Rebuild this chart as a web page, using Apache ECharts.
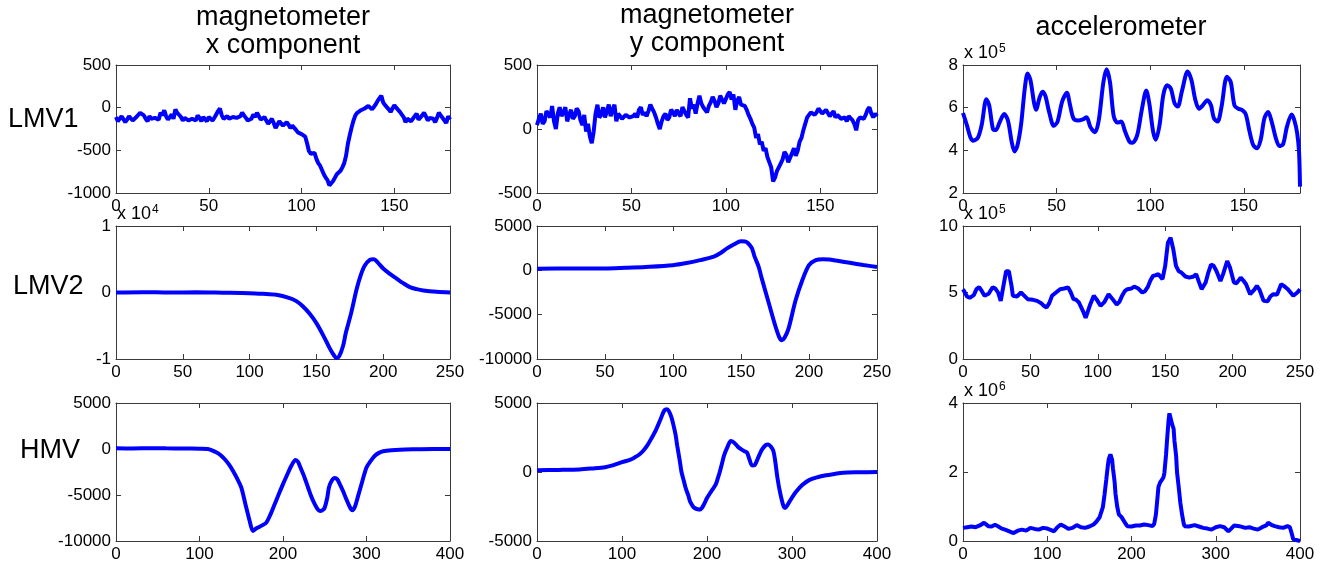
<!DOCTYPE html>
<html>
<head>
<meta charset="utf-8">
<script src="https://cdn.jsdelivr.net/npm/echarts@6.0.0/dist/echarts.min.js"></script>
<style>
  html, body { margin: 0; padding: 0; background: #fff; }
  #chart { width: 1329px; height: 566px; }
</style>
</head>
<body>
<div id="chart"></div>
<script>
// column / row captions
const colTitles = ['magnetometer\nx component', 'magnetometer\ny component', 'accelerometer'];
const rowLabels = ['LMV1', 'LMV2', 'HMV'];

// x axis per row
const xMaxs = [180, 250, 400];
const xSteps = [50, 50, 100];

// y axis per panel (row by row); values of panels with an exponent are stored scaled
const yMins = [-1000, -500, 2, -1, -10000, 0, -10000, -5000, 0];
const yMaxs = [500, 500, 8, 1, 5000, 10, 5000, 5000, 4];
const ySteps = [500, 500, 2, 1, 5000, 5, 5000, 5000, 2];
const yExponents = [0, 0, 5, 4, 0, 5, 0, 0, 6];

// LMV1 magnetometer, one value per sample 0..180
const lmv1MagXValues = [-110,-160,-150,-100,-90,-170,-140,-100,-120,-150,-160,-110,-100,-60,-40,-90,-130,-160,-100,-130,
  -150,-120,-110,-140,-60,-90,-30,-100,-140,-110,-80,-130,-20,-60,-50,-110,-150,-120,-110,-150,
  -170,-130,-120,-150,-90,-120,-160,-110,-130,-160,-110,-130,-150,-120,-80,-40,-10,-90,-130,-150,
  -100,-130,-150,-110,-90,-120,-140,-100,-60,-90,-120,-150,-170,-130,-80,-110,-60,-100,-140,-120,
  -110,-150,-190,-160,-130,-180,-240,-200,-160,-180,-210,-230,-170,-200,-240,-210,-220,-260,-290,-280,
  -310,-300,-340,-420,-510,-540,-560,-530,-600,-650,-680,-700,-780,-820,-850,-910,-900,-860,-820,-780,
  -770,-740,-700,-650,-560,-420,-320,-230,-150,-90,-60,-40,-30,-10,-10,-30,20,0,-20,10,
  40,80,110,140,60,30,10,-20,-50,-10,30,0,-20,-50,-60,-110,-170,-130,-110,-160,
  -130,-100,-70,-140,-120,-90,-60,-100,-150,-120,-100,-130,-170,-120,-60,-90,-110,-150,-180,-100,-140];
const lmv1MagYValues = [30,80,120,40,60,140,150,90,180,60,0,120,170,100,130,170,60,110,150,80,
  100,160,140,70,30,110,-20,40,-60,-110,-20,120,190,90,110,170,90,140,190,100,
  150,190,60,120,100,80,90,110,100,90,80,100,120,90,150,170,110,130,100,140,
  190,160,130,90,40,0,60,100,120,70,90,150,130,100,150,120,100,170,160,110,
  90,240,160,190,120,200,260,200,170,150,130,180,210,250,220,170,200,260,230,200,
  210,270,290,230,270,150,220,250,190,200,180,150,110,80,40,10,-70,-40,-120,-100,
  -170,-150,-220,-230,-300,-410,-380,-330,-320,-270,-240,-180,-200,-260,-250,-190,-150,-210,-170,-100,
  -70,-10,40,90,110,130,140,110,130,160,150,120,110,150,140,100,120,140,90,110,
  100,80,70,90,60,100,110,70,40,-10,70,90,100,80,110,150,170,120,90,120,100];
const lmv1Acc = [[0,5.75],[2,5.2],[4,4.6],[5.5,4.45],[8,4.6],[10,5.2],[12.5,6.4],[14,6.1],[16,5.0],[17.5,4.95],
  [19.5,5.3],[22,5.7],[24,5.4],[26,4.4],[27.5,3.95],[29,4.2],[31,5.2],[33,6.9],[34.5,7.6],[36,7.3],[38,6.2],
  [39,5.9],[41,6.5],[42.5,6.75],[44,6.55],[46,5.8],[48.5,5.15],[50.5,5.35],[53,6.3],[55.5,6.7],[57,6.2],
  [59,5.5],[61.5,5.4],[64,5.45],[66,5.55],[68,5.1],[70.5,4.85],[72.5,5.4],[75,7.2],[76.7,7.8],[78.5,7.2],
  [80.5,5.6],[82.5,5.3],[84.5,5.35],[86.5,4.9],[89,4.4],[90.5,4.35],[93,4.7],[95.5,5.9],[97.9,6.8],[99.5,6.2],
  [101.5,4.9],[103,4.5],[105,5.2],[107,6.6],[109,7.05],[111,6.9],[113,6.2],[114.7,6.05],[117,6.8],[120,7.7],
  [122,7.3],[124,6.4],[126,5.95],[128,6.1],[130.5,6.35],[132.5,6.1],[134,5.5],[136,5.35],[138,6.0],[141,7.45],
  [143,7.2],[145,6.1],[147,5.95],[149,5.9],[151,5.7],[153,4.9],[155,4.25],[157,4.1],[159,4.5],[161,5.5],
  [163,5.8],[165,5.3],[167,4.6],[169,4.2],[171,4.3],[173,5.1],[175.5,5.68],[177,5.4],[178.5,4.8],[179.5,3.9],[180,2.3]];

// LMV2
const lmv2MagX = [[0,0],[20,0.005],[40,0],[60,0.003],[80,-0.003],[100,-0.01],[110,-0.02],[120,-0.035],[130,-0.085],
  [135,-0.13],[140,-0.21],[145,-0.32],[150,-0.46],[155,-0.64],[160,-0.84],[163,-0.94],[165,-0.985],[167,-0.96],
  [170,-0.8],[172,-0.61],[176,-0.31],[180,0.04],[183,0.25],[186,0.4],[190,0.49],[193,0.5],[196,0.45],[200,0.36],
  [205,0.28],[210,0.21],[215,0.14],[220,0.08],[225,0.05],[230,0.03],[240,0.01],[250,0]];
const lmv2MagY = [[0,190],[25,220],[50,200],[65,280],[80,380],[100,580],[110,820],[120,1150],[130,1540],[135,1950],
  [140,2500],[145,2950],[150,3270],[153,3250],[155,3080],[158,2500],[160,1540],[163,400],[165,-770],[170,-3460],
  [175,-6150],[178,-7500],[180,-7880],[182,-7600],[185,-6540],[190,-3460],[195,-1150],[200,580],[205,1150],
  [210,1250],[215,1230],[220,1100],[230,850],[240,600],[250,380]];
const lmv2Acc = [[0,5.25],[3,4.7],[5,4.6],[8,4.8],[10,5.25],[12,5.4],[14,5.1],[16,4.75],[19,4.9],[22,5.4],[24,5.3],
  [26,5.0],[28,4.37],[30,5.5],[32,6.6],[34,6.6],[36,5.5],[37,4.75],[40,4.7],[43,5.0],[45,4.8],[48,4.5],[52,4.45],
  [55,4.37],[58,4.2],[60,4.0],[62,3.87],[64,4.2],[66,4.75],[69,5.0],[72,5.25],[75,5.3],[78,5.38],[80,5.0],
  [82,4.5],[84,4.45],[86,4.25],[89,3.6],[91,3.1],[94,4.0],[97,4.75],[99,4.5],[102,4.0],[105,4.3],[108,4.87],
  [111,4.5],[114,4.1],[116,4.3],[118,4.75],[120,5.1],[122,5.25],[125,5.3],[127,5.45],[130,5.3],[133,5.0],
  [135,5.1],[137,5.4],[139,5.9],[141,6.25],[143,6.3],[145,6.38],[148,6.0],[150,7.0],[152,8.75],[154,9.12],
  [156,8.25],[158,7.0],[160,6.6],[162,6.5],[165,6.2],[168,6.12],[171,6.2],[173,6.38],[175,5.8],[177,5.25],
  [180,5.75],[182,6.5],[184,7.1],[186,7.0],[188,6.62],[191,5.87],[193,6.4],[196,7.37],[198,6.9],[201,5.75],
  [203,5.7],[206,6.12],[208,5.9],[210,5.62],[213,4.87],[216,5.2],[218,5.5],[220,5.2],[223,4.37],[226,4.35],
  [228,4.7],[230,4.87],[233,4.85],[236,5.62],[238,5.5],[241,5.25],[243,5.0],[245,4.75],[248,5.0],[250,5.25]];

// HMV
const hmvMagX = [[0,80],[20,60],[40,90],[60,70],[80,60],[100,30],[110,0],[115,-150],[120,-360],[125,-650],
  [130,-1090],[135,-1650],[140,-2360],[145,-3200],[150,-4180],[155,-6000],[160,-7800],[164,-8900],[167,-8700],
  [170,-8540],[175,-8300],[180,-8000],[185,-7100],[190,-6000],[195,-4900],[200,-3820],[205,-2800],[210,-1820],
  [215,-1200],[218,-1400],[220,-1820],[225,-2900],[230,-4180],[234,-5200],[238,-6000],[242,-6600],[245,-6730],
  [248,-6600],[250,-6360],[253,-5300],[255,-4180],[258,-3500],[262,-3160],[265,-3300],[268,-3820],[272,-4600],
  [275,-5270],[280,-6300],[283,-6650],[286,-6300],[290,-5090],[295,-3500],[300,-2000],[305,-1300],[310,-730],
  [315,-420],[320,-250],[330,-130],[340,-70],[360,-30],[380,0],[400,0]];
const hmvMagY = [[0,120],[25,150],[50,190],[65,260],[80,350],[90,500],[100,710],[110,900],[115,1060],[120,1250],
  [125,1540],[130,1950],[135,2480],[140,3050],[145,3770],[150,4480],[153,4550],[155,4430],[158,4000],[160,3540],
  [163,2700],[165,1890],[168,800],[170,0],[173,-700],[175,-1180],[178,-1700],[180,-2120],[183,-2450],[185,-2590],
  [189,-2700],[192,-2710],[196,-2400],[200,-1890],[205,-1400],[210,-940],[213,-400],[215,0],[218,700],[220,1180],
  [224,1800],[228,2240],[232,2120],[236,1850],[240,1650],[244,1500],[247,1420],[250,900],[253,470],[256,500],
  [258,710],[262,1300],[265,1650],[269,1950],[272,2000],[275,1850],[278,1540],[280,900],[283,-470],[286,-1500],
  [290,-2480],[292,-2600],[295,-2360],[300,-1850],[305,-1420],[312,-950],[320,-590],[330,-380],[340,-240],
  [350,-140],[360,-50],[380,-20],[400,0]];
const hmvAcc = [[0,0.38],[5,0.4],[10,0.42],[15,0.40],[20,0.45],[25,0.53],[30,0.43],[34,0.42],[38,0.47],[42,0.42],
  [46,0.36],[50,0.33],[55,0.28],[60,0.23],[65,0.30],[70,0.33],[75,0.30],[80,0.38],[85,0.35],[90,0.33],[95,0.38],
  [100,0.36],[104,0.32],[108,0.28],[112,0.40],[116,0.48],[120,0.43],[125,0.35],[130,0.38],[135,0.46],[140,0.40],
  [145,0.38],[150,0.42],[155,0.48],[158,0.55],[162,0.68],[166,0.98],[168,1.35],[170,1.77],[172,2.2],[173,2.37],
  [175,2.51],[177,2.35],[178,2.1],[180,1.7],[181,1.37],[183,1.0],[185,0.77],[188,0.7],[190,0.62],[193,0.5],
  [195,0.43],[200,0.42],[205,0.45],[210,0.45],[215,0.48],[220,0.46],[225,0.43],[227,0.5],[229,0.77],[231,1.3],
  [232,1.57],[234,1.7],[236,1.77],[238,1.85],[239,1.97],[241,2.5],[242,2.86],[244,3.5],[245,3.70],[246,3.6],
  [247,3.65],[248,3.4],[250,3.25],[251,2.9],[253,2.46],[254,2.0],[256,1.57],[258,1.1],[260,0.77],[262,0.5],
  [263,0.43],[268,0.42],[275,0.46],[280,0.42],[285,0.38],[290,0.36],[295,0.33],[300,0.40],[305,0.43],[310,0.40],
  [315,0.28],[318,0.35],[322,0.45],[328,0.43],[335,0.38],[340,0.40],[345,0.36],[350,0.33],[355,0.40],[360,0.45],
  [362,0.53],[366,0.47],[370,0.43],[375,0.40],[380,0.38],[385,0.43],[388,0.40],[390,0.23],[392,0.05],[393,0],[400,0]];

const toPairs = vals => vals.map((v, k) => [k, v]);
const panelData = [toPairs(lmv1MagXValues), toPairs(lmv1MagYValues), lmv1Acc,
    lmv2MagX, lmv2MagY, lmv2Acc, hmvMagX, hmvMagY, hmvAcc];

// layout (pixels)
const colLeft = [116, 537, 963];
const colWidth = [334, 340, 337];
const rowTop = [65, 226, 403];
const rowHeight = [128, 133, 138];
const smoothPanels = [false, false, 0.3, 0.3, 0.3, false, 0.3, 0.3, false];

const FONT = '"Liberation Sans", Arial, Helvetica, sans-serif';
const AXIS_COLOR = '#3a3a3a';

const grids = [], xAxes = [], yAxes = [], series = [], graphics = [];

panelData.forEach((data, i) => {
    const r = Math.floor(i / 3), c = i % 3;
    grids.push({left: colLeft[c], top: rowTop[r], width: colWidth[c], height: rowHeight[r], show: false});

    const line = {show: true, onZero: false, lineStyle: {color: AXIS_COLOR, width: 1}};
    const tick = {show: true, inside: true, length: 5, lineStyle: {color: AXIS_COLOR, width: 1}};
    const xStep = xSteps[r];
    ['bottom', 'top'].forEach(pos => {
        xAxes.push({
            type: 'value', gridIndex: i, position: pos,
            min: 0, max: xMaxs[r], interval: xStep,
            axisLine: line, axisTick: tick, splitLine: {show: false},
            axisLabel: {
                show: pos === 'bottom', color: '#000', fontSize: 17, fontFamily: FONT, margin: 5,
                formatter: v => (v % xStep === 0 ? String(v) : '')
            }
        });
    });
    ['left', 'right'].forEach(pos => {
        yAxes.push({
            type: 'value', gridIndex: i, position: pos,
            min: yMins[i], max: yMaxs[i], interval: ySteps[i],
            axisLine: line, axisTick: tick, splitLine: {show: false},
            axisLabel: {
                show: pos === 'left', color: '#000', fontSize: 17, fontFamily: FONT, margin: 5,
                formatter: v => String(v)
            }
        });
    });

    series.push({
        type: 'line', xAxisIndex: 2 * i, yAxisIndex: 2 * i,
        data: data, symbol: 'none', showSymbol: false, smooth: smoothPanels[i],
        lineStyle: {color: '#0000ff', width: 4}, silent: true
    });

    // MATLAB style "x 10^n" multiplier above the y axis
    if (yExponents[i]) {
        graphics.push({
            type: 'text', x: colLeft[c] + 1, y: rowTop[r] - 3,
            style: {text: 'x 10', fontSize: 18, fontFamily: FONT, fill: '#000', textAlign: 'left', textVerticalAlign: 'bottom'}
        });
        graphics.push({
            type: 'text', x: colLeft[c] + 36, y: rowTop[r] - 22,
            style: {text: String(yExponents[i]), fontSize: 12, fontFamily: FONT, fill: '#000', textAlign: 'left', textVerticalAlign: 'top'}
        });
    }
});

// column titles and row labels
const titlePos = [[283, 31.5], [707, 29.5], [1121, 27.5]];
colTitles.forEach((t, c) => {
    graphics.push({
        type: 'text', x: titlePos[c][0], y: titlePos[c][1],
        style: {text: t, fontSize: 27, lineHeight: 28, fontFamily: FONT, fill: '#000', textAlign: 'center', textVerticalAlign: 'middle'}
    });
});
const rowLabelPos = [[8, 120], [13, 287], [20, 451]];
rowLabels.forEach((t, r) => {
    graphics.push({
        type: 'text', x: rowLabelPos[r][0], y: rowLabelPos[r][1],
        style: {text: t, fontSize: 27, fontFamily: FONT, fill: '#000', textAlign: 'left', textVerticalAlign: 'middle'}
    });
});

const myChart = echarts.init(document.getElementById('chart'));
myChart.setOption({
    animation: false,
    backgroundColor: '#fff',
    grid: grids,
    xAxis: xAxes,
    yAxis: yAxes,
    series: series,
    graphic: graphics
});
</script>
</body>
</html>
